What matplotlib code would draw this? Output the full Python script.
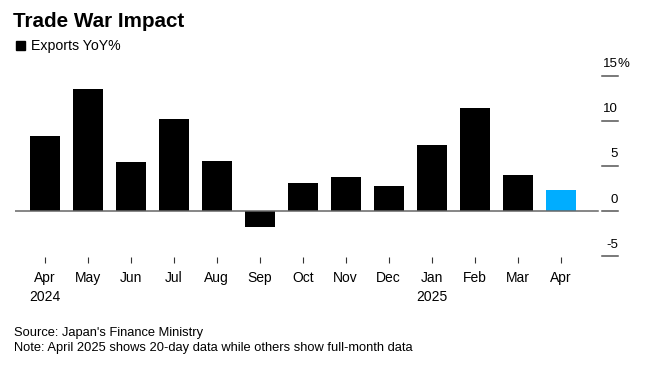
import matplotlib.pyplot as plt
from matplotlib.patches import Rectangle
from matplotlib.transforms import blended_transform_factory
import numpy as np

plt.rcParams['font.family'] = ['Liberation Sans', 'DejaVu Sans']

# data
months = ["Apr\n2024", "May", "Jun", "Jul", "Aug", "Sep", "Oct",
          "Nov", "Dec", "Jan\n2025", "Feb", "Mar", "Apr"]
exports_yoy = [8.3, 13.5, 5.4, 10.2, 5.6, -1.7, 3.1, 3.8, 2.8, 7.3, 11.4, 4.0, 2.3]
bar_colors = ["#000000"] * 12 + ["#00adff"]
yticks = [-5, 0, 5, 10, 15]

W, H = 650, 365
fig = plt.figure(figsize=(W / 100, H / 100), dpi=100)

# axes box in pixels: left 15, right 602, top 62, bottom 257.4
ax = fig.add_axes([15 / W, 1 - 257.4 / H, (602 - 15) / W, (257.4 - 62.1) / H])

x = np.arange(len(months))
ax.bar(x, exports_yoy, width=0.7, color=bar_colors, zorder=2)
ax.axhline(0, xmin=0, xmax=0.993, color="#666666", lw=1.1, zorder=3)

ax.set_xlim(-0.69, 12.96)
ax.set_ylim(-5.1, 16.5)
for s in ax.spines.values():
    s.set_visible(False)

ax.set_xticks(x)
ax.set_xticklabels(months, fontsize=10, linespacing=1.4, va="top")
ax.tick_params(axis="x", length=4, width=0.8, color="#333333", pad=6)
ax.set_yticks([])

# right-side value ticks with labels sitting above them
tr = blended_transform_factory(ax.transAxes, ax.transData)
x0 = 1.0
x1 = 1.0 + 16 / (602 - 15)
for v in yticks:
    ax.plot([x0, x1], [v, v], transform=tr, color="#555555", lw=1.1, clip_on=False)
    ax.text(x1, v + 1.3, str(v), transform=tr, ha="right", va="center", fontsize=9.5)
ax.text(x1, yticks[-1] + 1.3, "%", transform=tr, ha="left", va="center", fontsize=9.5)

# title and legend
fig.text(13 / W, 1 - 26.7 / H, "Trade War Impact", fontsize=14.9, fontweight="bold",
         va="baseline", ha="left")
fig.patches.append(Rectangle((16 / W, 1 - 49.7 / H), 9 / W, 9 / H, color="black",
                             transform=fig.transFigure, figure=fig))
fig.text(31.5 / W, 1 - 50 / H, "Exports YoY%", fontsize=10.2, va="baseline", ha="left")

# footnotes
fig.text(14 / W, 1 - 335.7 / H, "Source: Japan's Finance Ministry", fontsize=9.3,
         va="baseline", ha="left")
fig.text(14 / W, 1 - 351 / H,
         "Note: April 2025 shows 20-day data while others show full-month data",
         fontsize=9.3, va="baseline", ha="left")

fig.savefig("out.png", dpi=100)
